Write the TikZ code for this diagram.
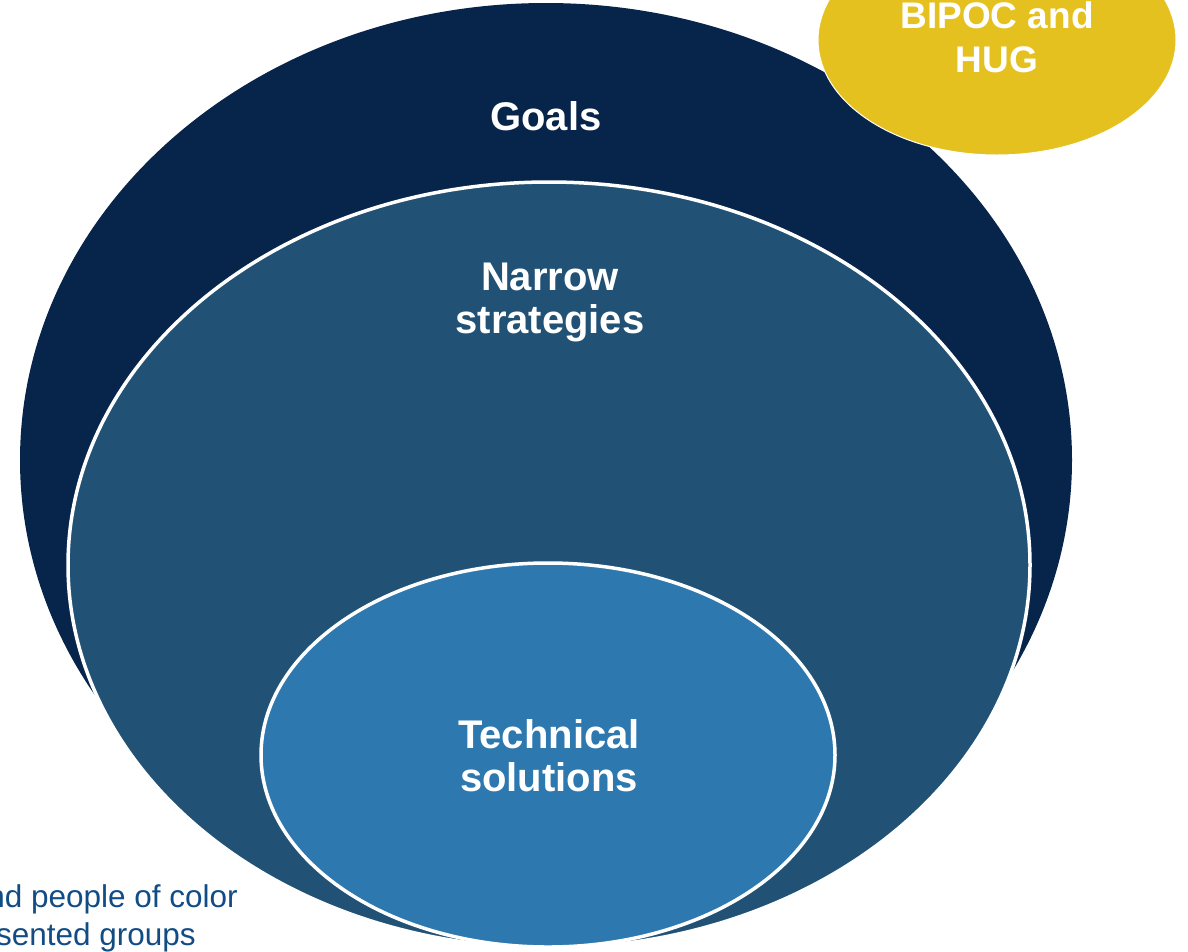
\documentclass[tikz,border=0pt]{standalone}
\usepackage{fontspec}
\setmainfont{Liberation Sans}
\definecolor{navyA}{HTML}{07244B}
\definecolor{midB}{HTML}{215276}
\definecolor{innC}{HTML}{2E78B0}
\definecolor{goldD}{HTML}{E5C120}
\definecolor{noteE}{HTML}{124C84}
\begin{document}
\begin{tikzpicture}[x=1pt,y=-1pt,
  lbl/.style={anchor=base,text=white,font=\bfseries\fontsize{40}{43}\selectfont,inner sep=0pt},
  lblsm/.style={anchor=base,text=white,font=\bfseries\fontsize{37}{44}\selectfont,inner sep=0pt},
  note/.style={anchor=base east,text=noteE,font=\fontsize{31.5}{37}\selectfont,inner sep=0pt}]
\useasboundingbox (0,0) rectangle (1188,951);
\clip (0,0) rectangle (1188,951);
% outer ellipse (Goals)
\fill[navyA] (546,460) ellipse [x radius=526, y radius=457];
% middle ellipse (Narrow strategies)
\filldraw[fill=midB,draw=white,line width=3.5pt] (549,565) ellipse [x radius=481, y radius=383];
% inner ellipse (Technical solutions)
\filldraw[fill=innC,draw=white,line width=3.5pt] (548,755) ellipse [x radius=287, y radius=192];
% gold ellipse
\filldraw[fill=goldD,draw=white,line width=1pt] (997,40) ellipse [x radius=179, y radius=115];
% labels
\node[lbl] (goals) at (546,130) {Goals};
\node[lbl] (narrow1) at (550,290) {Narrow};
\node[lbl] (narrow2) at (550,333) {strategies};
\node[lbl] (tech1) at (549,748) {Technical};
\node[lbl] (tech2) at (549,791) {solutions};
\node[lblsm] (bipoc1) at (997,28) {BIPOC and};
\node[lblsm] (bipoc2) at (997,72) {HUG};
\node[note] (note1) at (238,907) {nd people of color};
\node[note] (note2) at (196,945) {sented groups};
\end{tikzpicture}
\end{document}
